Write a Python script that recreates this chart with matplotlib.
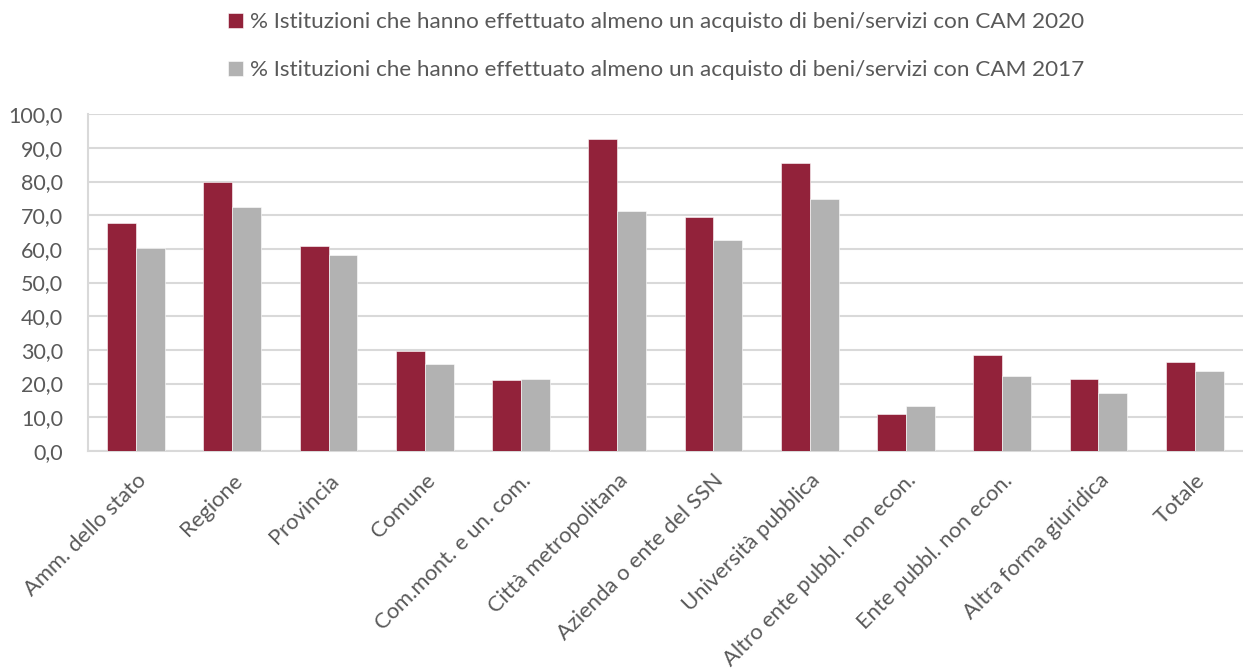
"""
Istituzioni che hanno effettuato almeno un acquisto con CAM, 2020 vs 2017.
"""
import numpy as np
import matplotlib.pyplot as plt
from matplotlib.ticker import FuncFormatter

CATEGORIES = [
    "Amm. dello stato", "Regione", "Provincia", "Comune",
    "Com.mont. e un. com.", "Città metropolitana", "Azienda o ente del SSN",
    "Università pubblica", "Altro ente pubbl. non econ.",
    "Ente pubbl. non econ.", "Altra forma giuridica", "Totale",
]
VALUES_2020 = [67.6, 79.8, 60.9, 29.7, 21.1, 92.6, 69.5, 85.5, 10.9, 28.5, 21.4, 26.4]
VALUES_2017 = [60.3, 72.3, 58.1, 25.9, 21.4, 71.2, 62.6, 74.7, 13.4, 22.3, 17.1, 23.8]
LABEL_2020 = "% Istituzioni che hanno effettuato almeno un acquisto di beni/servizi con CAM 2020"
LABEL_2017 = "% Istituzioni che hanno effettuato almeno un acquisto di beni/servizi con CAM 2017"

RED = "#92223A"
GREY = "#B2B2B2"
TEXT = "#595959"
GRID = "#D9D9D9"

plt.rcParams["font.family"] = ["Lato", "DejaVu Sans"]


def plot_chart():
    fig = plt.figure(figsize=(12.43, 6.72), dpi=100)
    ax = fig.add_axes([0.0708, 0.329, 0.929, 0.501])

    x = np.arange(len(CATEGORIES))
    width = 0.3
    ax.bar(x - width / 2, VALUES_2020, width, color=RED, label=LABEL_2020,
           edgecolor="white", linewidth=0.4, zorder=3)
    ax.bar(x + width / 2, VALUES_2017, width, color=GREY, label=LABEL_2017,
           edgecolor="white", linewidth=0.4, zorder=3)

    ax.set_xlim(-0.5, len(CATEGORIES) - 0.5)
    ax.set_ylim(0, 100)
    ax.set_yticks(np.arange(0, 101, 10))
    ax.yaxis.set_major_formatter(FuncFormatter(lambda v, _: f"{v:.1f}".replace(".", ",")))
    ax.yaxis.grid(True, color=GRID, linewidth=1.5, zorder=0)

    for side in ["top", "right"]:
        ax.spines[side].set_visible(False)
    for side in ["left", "bottom"]:
        ax.spines[side].set_color(GRID)
        ax.spines[side].set_linewidth(1.5)
    ax.tick_params(axis="both", length=0, colors=TEXT)
    ax.tick_params(axis="y", pad=18, labelsize=15.5)

    ax.set_xticks(x)
    ax.set_xticklabels(CATEGORIES, rotation=45, ha="right", va="top",
                       rotation_mode="anchor", fontsize=15.8, color=TEXT)
    ax.tick_params(axis="x", pad=14)

    fig.legend(loc="upper center", bbox_to_anchor=(0.528, 1.012), ncol=1,
               frameon=False, fontsize=16.2, handlelength=0.65, handleheight=0.65,
               handletextpad=0.3, labelspacing=1.25, labelcolor=TEXT)
    plt.savefig("out.png", dpi=100)


def main():
    plot_chart()


if __name__ == "__main__":
    main()
